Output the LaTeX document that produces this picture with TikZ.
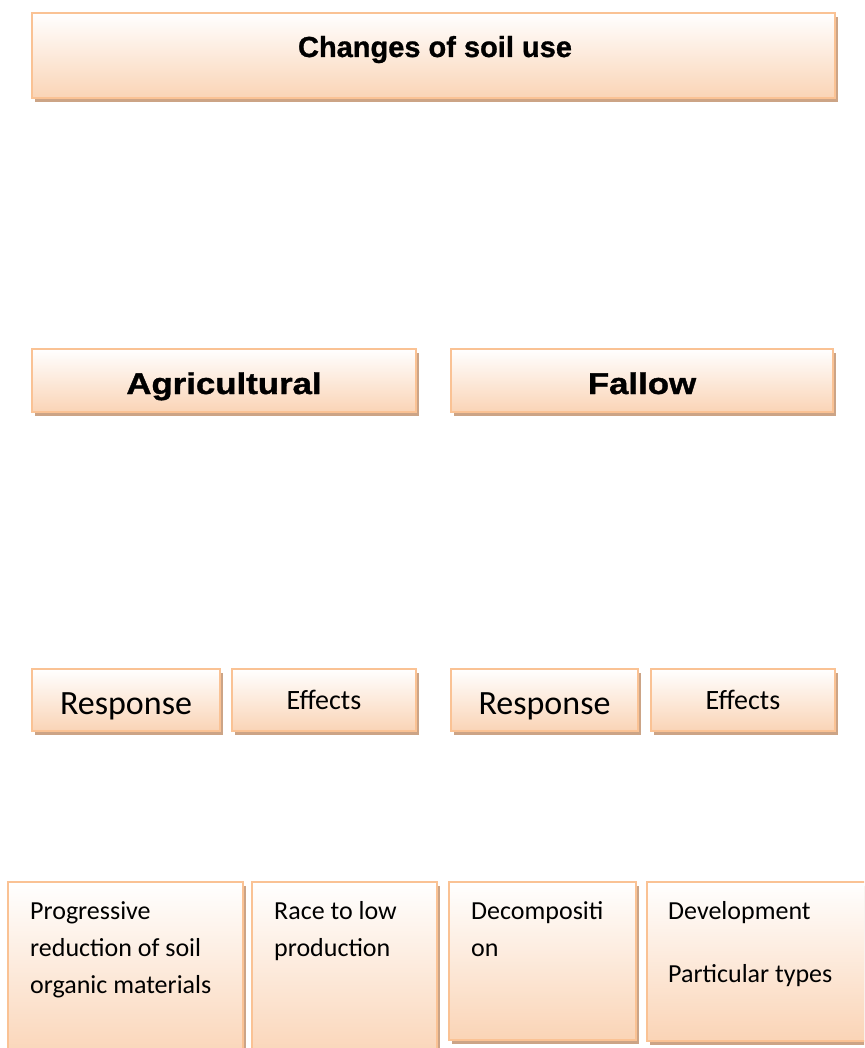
\documentclass[tikz,border=0pt]{standalone}
\usepackage{fontspec}
\setmainfont{Carlito}
\newfontfamily\titlefont[BoldFeatures={FakeBold=1}]{Liberation Sans}
\newfontfamily\widefont[FakeStretch=1.16, BoldFeatures={FakeBold=1.2}]{Liberation Sans}
\usetikzlibrary{shadows}

\definecolor{boxline}{RGB}{250,194,148}
\definecolor{boxfill}{RGB}{250,212,182}
\definecolor{shadowtan}{RGB}{204,164,134}

\tikzset{
  soilbox/.style={draw=boxline, line width=1.6pt, top color=white, bottom color=boxfill,
    anchor=north west, inner sep=0pt, outer sep=0pt,
    drop shadow={shadow xshift=3pt, shadow yshift=-4pt, fill=shadowtan, opacity=1}},
  bigtext/.style={anchor=base, inner sep=0pt, font=\widefont\bfseries\fontsize{30}{36}\selectfont},
  midtext/.style={anchor=base, inner sep=0pt},
  listtext/.style={anchor=base west, inner sep=0pt, text width=205pt, align=flush left,
    font=\fontsize{26}{37}\selectfont}
}

\begin{document}
\begin{tikzpicture}[x=1pt, y=-1pt]
  \clip (0,0) rectangle (864,1048);
  \fill[white] (0,0) rectangle (864,1048);

  % top level
  \node[soilbox, minimum width=803pt, minimum height=85pt] (soil) at (32,13) {};
  \node[anchor=base, inner sep=0pt, font=\titlefont\bfseries\fontsize{29}{35}\selectfont] (soiltxt) at (435,57) {Changes of soil use};

  % two kinds of use
  \node[soilbox, minimum width=384pt, minimum height=63pt] (agri) at (32,349) {};
  \node[soilbox, minimum width=382pt, minimum height=63pt] (fallow) at (451,349) {};
  \node[bigtext] (agritxt) at (224,394) {Agricultural};
  \node[bigtext] (fallowtxt) at (642,394) {Fallow};

  % response / effects
  \node[soilbox, minimum width=188pt, minimum height=62pt] (respA) at (32,669) {};
  \node[soilbox, minimum width=184pt, minimum height=62pt] (effA) at (232,669) {};
  \node[soilbox, minimum width=187pt, minimum height=62pt] (respF) at (451,669) {};
  \node[soilbox, minimum width=184pt, minimum height=62pt] (effF) at (651,669) {};

  \node[midtext, font=\fontsize{34}{40}\selectfont] (respAtxt) at (126,714) {Response};
  \node[midtext, font=\fontsize{28}{34}\selectfont] (effAtxt) at (324,709) {Effects};
  \node[midtext, font=\fontsize{34}{40}\selectfont] (respFtxt) at (544.5,714) {Response};
  \node[midtext, font=\fontsize{28}{34}\selectfont] (effFtxt) at (743,709) {Effects};

  % bottom row
  \node[soilbox, minimum width=235pt, minimum height=180pt] (reduc) at (8,882) {};
  \node[soilbox, minimum width=185pt, minimum height=180pt] (race) at (252,882) {};
  \node[soilbox, minimum width=187pt, minimum height=158pt] (decomp) at (449,882) {};
  \node[soilbox, minimum width=240pt, minimum height=159pt] (devel) at (647,882) {};

  \node[listtext] (reductxt) at (30,919) {Progressive\\reduction of soil\\organic materials};
  \node[listtext] (racetxt) at (274,919) {Race to low\\production};
  \node[listtext] (decomptxt) at (471,919) {Decompositi\\on};
  \node[listtext] (develtxt) at (668,919) {Development\\[26pt]Particular types};
\end{tikzpicture}
\end{document}
